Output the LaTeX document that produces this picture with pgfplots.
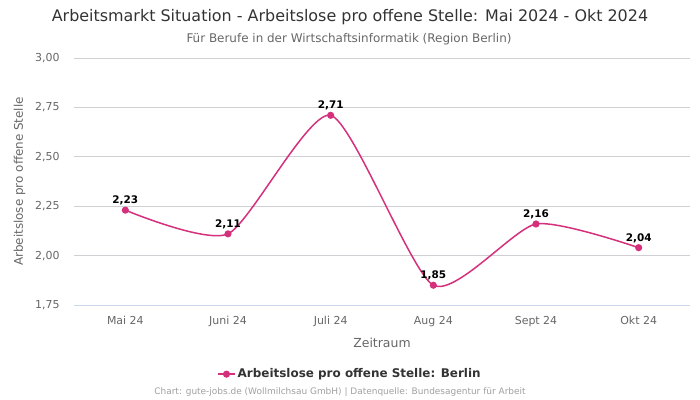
\documentclass[border=0pt]{standalone}
\usepackage{fontspec}
\setmainfont{DejaVu Sans}
\usepackage{pgfplots}
\pgfplotsset{compat=1.18}

\definecolor{linecol}{RGB}{212,48,124}
\definecolor{txtgray}{RGB}{102,102,102}
\definecolor{gridgray}{RGB}{208,208,212}
\definecolor{axisblue}{RGB}{204,214,235}
\definecolor{footgray}{RGB}{160,160,160}

\begin{document}
\begin{tikzpicture}
\path[use as bounding box] (0,0) rectangle (700bp,400bp);

\node[font=\fontsize{16}{19}\selectfont, text=black!80] at (350bp,383bp) {Arbeitsmarkt Situation - Arbeitslose pro offene Stelle: Mai 2024 - Okt 2024};
\node[font=\fontsize{12}{14}\selectfont, text=txtgray] at (349bp,361bp) {Für Berufe in der Wirtschaftsinformatik (Region Berlin)};

\begin{axis}[
    at={(74bp,95bp)}, anchor=south west,
    scale only axis,
    width=616bp, height=247bp,
    xmin=-0.5, xmax=5.5,
    ymin=1.75, ymax=3.0,
    xtick={0,1,2,3,4,5},
    xticklabels={Mai 24,Juni 24,Juli 24,Aug 24,Sept 24,Okt 24},
    ytick={1.75,2.0,2.25,2.5,2.75,3.0},
    axis x line*=bottom,
    axis y line*=left,
    x axis line style={draw=axisblue, -},
    y axis line style={draw=none},
    ymajorgrids,
    grid style={draw=gridgray, line width=0.6pt},
    major tick style={draw=none},
    /pgf/number format/.cd, use comma, fixed, fixed zerofill, precision=2, assume math mode=true,
    /pgfplots/.cd,
    tick label style={font=\fontsize{11}{13}\selectfont, text=txtgray},
    yticklabel style={xshift=-11bp},
    xticklabel style={yshift=-8bp},
    xlabel={Zeitraum},
    xlabel style={font=\fontsize{12.5}{15}\selectfont, text=txtgray, yshift=-4bp},
    ylabel={Arbeitslose pro offene Stelle},
    ylabel style={font=\fontsize{12}{14}\selectfont, text=txtgray, yshift=3bp},
    legend style={at={(0.448,-0.28)}, anchor=center, draw=none, fill=none,
                  font=\fontsize{12}{14}\selectfont\bfseries, text=black!80},
    clip=false,
]
\addplot[color=linecol, line width=1.5pt, smooth, tension=0.38,
         mark=*, mark size=2.8pt, mark options={fill=linecol, draw=linecol},
         nodes near coords,
         every node near coord/.append style={font=\fontsize{10.5}{12}\selectfont\bfseries, text=black, yshift=1bp}]
    coordinates {(0,2.23) (1,2.11) (2,2.71) (3,1.85) (4,2.16) (5,2.04)};
\addlegendentry{Arbeitslose pro offene Stelle: Berlin}
\end{axis}

\node[font=\fontsize{9}{11}\selectfont, text=footgray] at (340bp,8bp) {Chart: gute-jobs.de (Wollmilchsau GmbH) | Datenquelle: Bundesagentur für Arbeit};
\end{tikzpicture}
\end{document}
